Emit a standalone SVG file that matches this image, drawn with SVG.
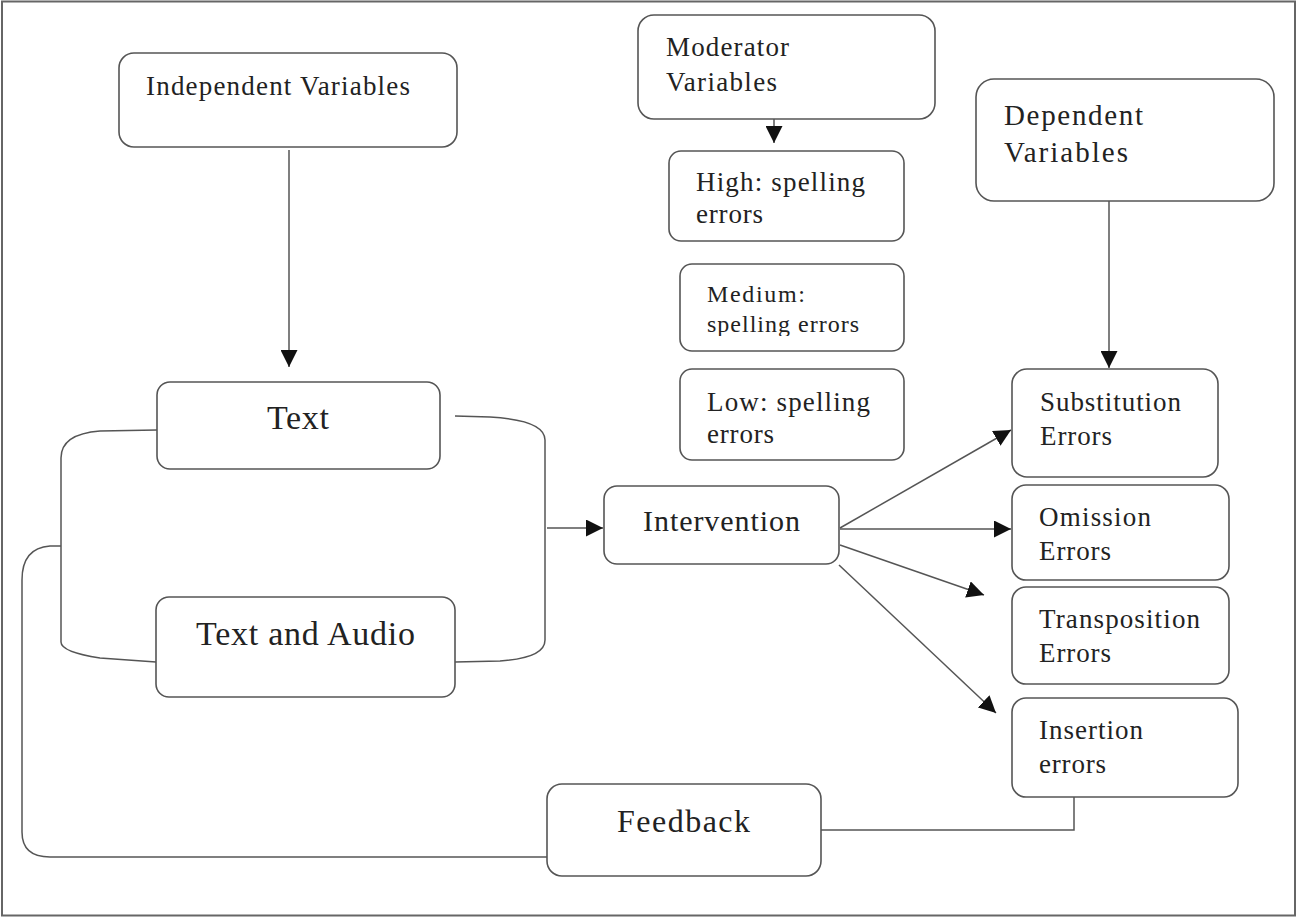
<svg xmlns="http://www.w3.org/2000/svg" width="1298" height="918" viewBox="0 0 1298 918">
<defs>
<style>
.box{fill:#fff;stroke:#555;stroke-width:1.6}
.ln{fill:none;stroke:#555;stroke-width:1.5}
.t{font-family:"Liberation Serif","Times New Roman",serif;fill:#222;font-size:27px}
</style>
<marker id="ahs" viewBox="0 0 10 10" refX="10" refY="5" markerWidth="17" markerHeight="17" markerUnits="userSpaceOnUse" orient="auto">
<path d="M0,0 L10,5 L0,10 z" fill="#111"/>
</marker>
<clipPath id="medclip"><rect x="680" y="264" width="225" height="72"/></clipPath>
</defs>
<rect x="2" y="1.5" width="1293" height="914" fill="#fff" stroke="#666" stroke-width="2"/>

<g id="connectors">
<line class="ln" x1="289" y1="150" x2="289" y2="367" marker-end="url(#ahs)"/>
<line class="ln" x1="774" y1="119" x2="774" y2="143" marker-end="url(#ahs)"/>
<line class="ln" x1="1109" y1="201" x2="1109" y2="368" marker-end="url(#ahs)"/>
<path class="ln" d="M157,430 L100,431 Q61,434 61,458 L61,642 Q61,652 100,658 L156,662"/>
<path class="ln" d="M455,416 L490,417 Q545,420 545,440 L545,640 Q545,658 500,661 L455,662"/>
<line class="ln" x1="547" y1="528" x2="603" y2="528" marker-end="url(#ahs)"/>
<line class="ln" x1="840" y1="528" x2="1011" y2="430" marker-end="url(#ahs)"/>
<line class="ln" x1="840" y1="529" x2="1011" y2="529" marker-end="url(#ahs)"/>
<line class="ln" x1="840" y1="545" x2="984" y2="595" marker-end="url(#ahs)"/>
<line class="ln" x1="839" y1="565" x2="996" y2="713" marker-end="url(#ahs)"/>
<path class="ln" d="M61,546 L50,546 Q22,548 22,580 L22,832 Q22,857 50,857 L547,857"/>
<path class="ln" d="M1074,797 L1074,830 L821,830"/>
</g>

<g id="independent">
<rect class="box" x="119" y="53" width="338" height="94" rx="15"/>
<text class="t" x="146" y="95" textLength="264" lengthAdjust="spacing">Independent Variables</text>
</g>
<g id="moderator">
<rect class="box" x="638" y="15" width="297" height="104" rx="16"/>
<text class="t" x="666" y="56" textLength="123" lengthAdjust="spacing">Moderator</text>
<text class="t" x="666" y="91" textLength="111" lengthAdjust="spacing">Variables</text>
</g>
<g id="high">
<rect class="box" x="669" y="151" width="235" height="90" rx="12"/>
<text class="t" x="696" y="191" textLength="169" lengthAdjust="spacing">High: spelling</text>
<text class="t" x="696" y="223" textLength="67" lengthAdjust="spacing">errors</text>
</g>
<g id="medium">
<rect class="box" x="680" y="264" width="224" height="87" rx="12"/>
<text class="t" x="707" y="302" style="font-size:24px" textLength="98" lengthAdjust="spacing">Medium:</text>
<text class="t" x="707" y="332" style="font-size:24px" clip-path="url(#medclip)" textLength="152" lengthAdjust="spacing">spelling errors</text>
</g>
<g id="low">
<rect class="box" x="680" y="369" width="224" height="91" rx="12"/>
<text class="t" x="707" y="411" textLength="163" lengthAdjust="spacing">Low: spelling</text>
<text class="t" x="707" y="443" textLength="67" lengthAdjust="spacing">errors</text>
</g>
<g id="dependent">
<rect class="box" x="976" y="79" width="298" height="122" rx="18"/>
<text class="t" x="1004" y="125" style="font-size:29px" textLength="139" lengthAdjust="spacing">Dependent</text>
<text class="t" x="1004" y="162" style="font-size:29px" textLength="124" lengthAdjust="spacing">Variables</text>
</g>
<g id="substitution">
<rect class="box" x="1012" y="369" width="206" height="108" rx="15"/>
<text class="t" x="1040" y="411" textLength="141" lengthAdjust="spacing">Substitution</text>
<text class="t" x="1040" y="445" textLength="72" lengthAdjust="spacing">Errors</text>
</g>
<g id="omission">
<rect class="box" x="1012" y="485" width="217" height="95" rx="14"/>
<text class="t" x="1039" y="526" textLength="112" lengthAdjust="spacing">Omission</text>
<text class="t" x="1039" y="560" textLength="72" lengthAdjust="spacing">Errors</text>
</g>
<g id="transposition">
<rect class="box" x="1012" y="587" width="217" height="97" rx="14"/>
<text class="t" x="1039" y="628" textLength="161" lengthAdjust="spacing">Transposition</text>
<text class="t" x="1039" y="662" textLength="72" lengthAdjust="spacing">Errors</text>
</g>
<g id="insertion">
<rect class="box" x="1012" y="698" width="226" height="99" rx="14"/>
<text class="t" x="1039" y="739" textLength="104" lengthAdjust="spacing">Insertion</text>
<text class="t" x="1039" y="773" textLength="67" lengthAdjust="spacing">errors</text>
</g>
<g id="text">
<rect class="box" x="157" y="382" width="283" height="87" rx="13"/>
<text class="t" x="267" y="429" style="font-size:34px" textLength="62" lengthAdjust="spacing">Text</text>
</g>
<g id="textaudio">
<rect class="box" x="156" y="597" width="299" height="100" rx="13"/>
<text class="t" x="196" y="645" style="font-size:34px" textLength="219" lengthAdjust="spacing">Text and Audio</text>
</g>
<g id="intervention">
<rect class="box" x="604" y="486" width="235" height="78" rx="13"/>
<text class="t" x="643" y="531" style="font-size:30px" textLength="157" lengthAdjust="spacing">Intervention</text>
</g>
<g id="feedback">
<rect class="box" x="547" y="784" width="274" height="92" rx="15"/>
<text class="t" x="617" y="832" style="font-size:32px" textLength="133" lengthAdjust="spacing">Feedback</text>
</g>
</svg>
